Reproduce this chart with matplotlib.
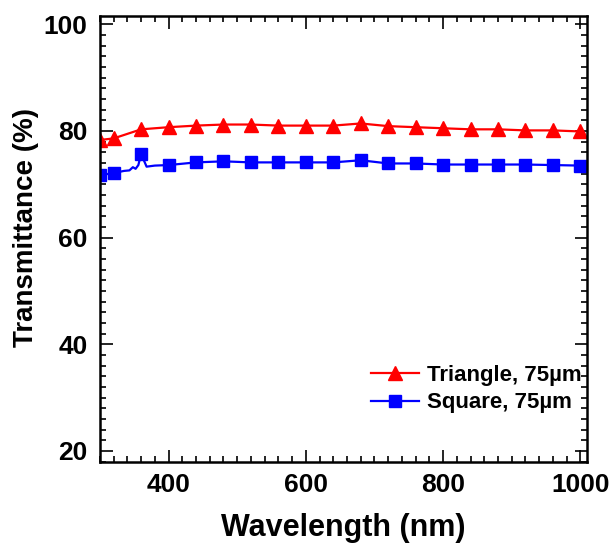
import numpy as np
import matplotlib
matplotlib.use('Agg')
import matplotlib.pyplot as plt
from matplotlib.ticker import MultipleLocator

# marker positions (nm) and values (%)
wl = [300, 320, 360, 400, 440, 480, 520, 560, 600, 640, 680,
      720, 760, 800, 840, 880, 920, 960, 1000]
tri = [78.3, 78.6, 80.3, 80.7, 81.0, 81.2, 81.2, 81.0, 81.0, 81.0, 81.4,
       80.9, 80.7, 80.5, 80.3, 80.3, 80.1, 80.1, 79.9]
sq = [71.7, 72.1, 75.7, 73.6, 74.1, 74.3, 74.1, 74.1, 74.1, 74.1, 74.5,
      73.9, 73.9, 73.7, 73.7, 73.7, 73.7, 73.6, 73.5]

sq_line_x = [300, 320, 335, 343, 348, 352, 356, 360, 368, 380, 400]
sq_line_y = [71.7, 72.1, 72.5, 72.6, 73.2, 72.9, 73.6, 75.7, 73.3, 73.5, 73.6]

plt.rcParams['font.family'] = ['Liberation Sans', 'DejaVu Sans']
plt.rcParams['font.weight'] = 'bold'

fig = plt.figure(figsize=(6.13, 5.43), dpi=100)
ax = fig.add_axes([0.163, 0.150, 0.795, 0.821])

red = '#ff0000'
blue = '#0000ff'

ax.plot(wl, tri, color=red, lw=1.6, marker='^', ms=10, label='Triangle, 75µm')
ax.plot(sq_line_x + wl[wl.index(400) + 1:], sq_line_y + sq[wl.index(400) + 1:],
        color=blue, lw=1.6)
ax.plot(wl, sq, color=blue, lw=0, marker='s', ms=8.5)
# legend proxy for square series
ax.plot([], [], color=blue, lw=1.6, marker='s', ms=8.5, label='Square, 75µm')

ax.set_xlim(300, 1010)
ax.set_ylim(18, 101.6)
ax.xaxis.set_major_locator(MultipleLocator(200))
ax.xaxis.set_minor_locator(MultipleLocator(20))
ax.yaxis.set_major_locator(MultipleLocator(20))
ax.yaxis.set_minor_locator(MultipleLocator(2))
ax.set_xticks([400, 600, 800, 1000])

ax.tick_params(which='both', direction='in', top=True, right=True, width=1.2)
ax.tick_params(which='major', length=9, labelsize=19)
ax.tick_params(which='minor', length=4.5)
ax.tick_params(axis='y', pad=9)
ax.tick_params(axis='x', pad=8)
for s in ax.spines.values():
    s.set_linewidth(1.8)

ax.set_xlabel('Wavelength (nm)', fontsize=22, fontweight='bold', labelpad=12)
ax.set_ylabel('Transmittance (%)', fontsize=20, fontweight='bold')
ax.yaxis.set_label_coords(-0.126, 0.526)

ax.legend(loc='lower right', bbox_to_anchor=(1.03, 0.063), frameon=False,
          fontsize=16, handlelength=2.2, handletextpad=0.35, labelspacing=0.3)

fig.savefig('out.png', dpi=100)
